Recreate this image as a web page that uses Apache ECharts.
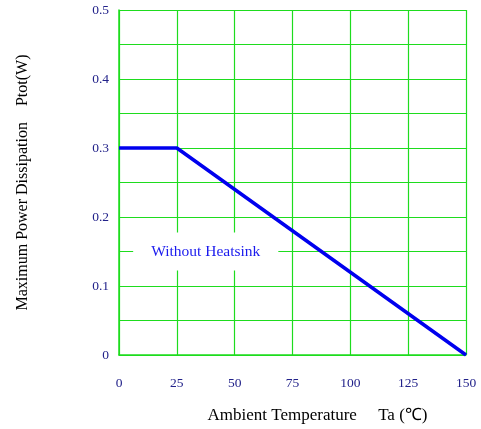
<!DOCTYPE html>
<html><head><meta charset="utf-8">
<script src="https://cdn.jsdelivr.net/npm/echarts@6/dist/echarts.min.js"></script>
<style>html,body{margin:0;padding:0;background:#fff}#c{width:481px;height:429px}</style>
</head><body><div id="c"></div>
<script>
const temps = [0, 25, 150];
const power = [0.3, 0.3, 0];
const xTicks = [0, 25, 50, 75, 100, 125, 150];
const yTicks = [0, 0.1, 0.2, 0.3, 0.4, 0.5];
const noteText = 'Without Heatsink';
const notePos = [37.5, 0.15];

const chart = echarts.init(document.getElementById('c'), null, {renderer: 'canvas'});
const green = '#1edc1e';
const font = '"Liberation Serif","Times New Roman",serif';
chart.setOption({
  animation: false,
  grid: {left: 119, right: 15, top: 10, bottom: 73},
  xAxis: {
    type: 'value', min: xTicks[0], max: xTicks[xTicks.length - 1], interval: 25,
    axisLine: {show: true, onZero: false, lineStyle: {color: green, width: 1.5}},
    axisTick: {show: false},
    splitLine: {show: true, lineStyle: {color: green, width: 1.2}},
    axisLabel: {color: '#22228a', fontFamily: font, fontSize: 13.5, margin: 21},
    name: 'Ambient Temperature     Ta (\u2103)', nameLocation: 'middle', nameGap: 52,
    nameTextStyle: {color: '#000', fontFamily: font, fontSize: 17, padding: [0, 0, 0, 50]}
  },
  yAxis: {
    type: 'value', min: 0, max: yTicks[yTicks.length - 1], interval: 0.05,
    axisLine: {show: true, lineStyle: {color: green, width: 1.5}},
    axisTick: {show: false},
    splitLine: {show: true, lineStyle: {color: green, width: 1.2}},
    axisLabel: {
      color: '#22228a', fontFamily: font, fontSize: 13.5, margin: 10,
      formatter: v => {
        const t = yTicks.find(y => Math.abs(y - v) < 1e-6);
        if (t === undefined) return '';
        return t === 0 ? '0' : t.toFixed(1);
      }
    },
    name: 'Maximum Power Dissipation    Ptot(W)', nameLocation: 'middle', nameGap: 88,
    nameTextStyle: {color: '#000', fontFamily: font, fontSize: 16}
  },
  series: [{
    type: 'line', data: temps.map((t, i) => [t, power[i]]),
    symbol: 'none', lineStyle: {color: '#0000ee', width: 3.5},
    markPoint: {
      symbol: 'rect', symbolSize: 1, itemStyle: {color: 'rgba(0,0,0,0)'},
      data: [{coord: notePos, value: noteText}],
      label: {
        show: true, position: 'inside', formatter: noteText,
        color: '#1a1aee', fontFamily: font, fontSize: 15.5,
        backgroundColor: '#fff', padding: [11, 18]
      }
    }
  }]
});
</script></body></html>
